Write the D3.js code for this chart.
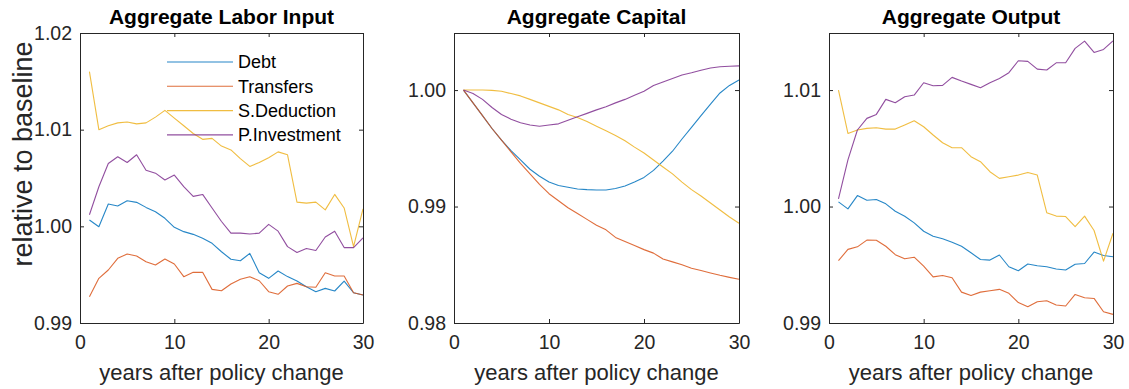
<!DOCTYPE html>
<html>
<head>
<meta charset="utf-8">
<script src="https://cdn.jsdelivr.net/npm/d3@7/dist/d3.min.js"></script>
<style>
    body { margin: 0; background: #fff; }
    svg { display: block; font-family: "Liberation Sans", Arial, sans-serif; }
</style>
</head>
<body>
<svg id="chart" width="1129" height="389"></svg>
<script>
var years = d3.range(1, 31);
var seriesNames = ['Debt', 'Transfers', 'S.Deduction', 'P.Investment'];
var seriesColors = ['#0072BD', '#D95319', '#EDB120', '#7E2F8E'];
var xTicks = [0, 10, 20, 30];

var laborDebt = [1.00065, 0.99996, 1.00231, 1.0021, 1.00265, 1.00248, 1.00196, 1.00151, 1.00083, 0.9999,
    0.99945, 0.99917, 0.99876, 0.99824, 0.99737, 0.99659, 0.99644, 0.9972, 0.9952, 0.99462,
    0.99538, 0.9948, 0.99434, 0.99375, 0.99324, 0.99358, 0.99331, 0.99434, 0.99313, 0.9929];
var laborTransfers = [0.99272, 0.99462, 0.99548, 0.99669, 0.99713, 0.99693, 0.99634, 0.996, 0.99662, 0.9961,
    0.99479, 0.99524, 0.99524, 0.99348, 0.99334, 0.99403, 0.99452, 0.99479, 0.99437, 0.99324,
    0.99297, 0.99383, 0.9941, 0.99375, 0.9937, 0.9952, 0.99486, 0.99486, 0.99313, 0.9929];
var laborSDeduction = [1.0160, 1.0100, 1.0104, 1.0107, 1.0108, 1.0106, 1.0107, 1.0113, 1.0120, 1.0112,
    1.0104, 1.0096, 1.0090, 1.0091, 1.0083, 1.0079, 1.0070, 1.0062, 1.0066, 1.0071,
    1.0077, 1.0074, 1.0025, 1.0024, 1.0025, 1.0017, 1.0033, 1.0019, 0.9979, 1.0018];
var laborPInvestment = [1.0012, 1.0041, 1.0065, 1.0072, 1.0066, 1.0074, 1.0058, 1.0055, 1.0048, 1.0053,
    1.0041, 1.0031, 1.0033, 1.0019, 1.0005, 0.9993, 0.9993, 0.9992, 0.9993, 1.0002,
    0.9995, 0.9979, 0.9973, 0.9977, 0.9975, 0.9989, 0.9995, 0.9978, 0.9978, 0.9988];

var capitalDebt = [1.0000, 0.9989, 0.9978, 0.9967, 0.9957, 0.9948, 0.9940, 0.9932, 0.9926, 0.9921,
    0.9918, 0.99165, 0.9915, 0.99145, 0.99142, 0.99142, 0.99155, 0.99176, 0.9921, 0.9925,
    0.9931, 0.9939, 0.99475, 0.9958, 0.9968, 0.9978, 0.9988, 0.99975, 1.0004, 1.00086];
var capitalTransfers = [1.0000, 0.9989, 0.9978, 0.9967, 0.9957, 0.9947, 0.9937, 0.9928, 0.9919, 0.9911,
    0.9905, 0.9899, 0.9894, 0.9889, 0.9884, 0.9880, 0.98735, 0.9870, 0.98665, 0.9863,
    0.9860, 0.9855, 0.98525, 0.9850, 0.9847, 0.9845, 0.9843, 0.9841, 0.98392, 0.98375];
var capitalSDeduction = [1.0000, 1.0000, 1.0000, 0.99997, 0.9999, 0.9997, 0.9995, 0.9992, 0.9989, 0.9986,
    0.9983, 0.9979, 0.99765, 0.9973, 0.9969, 0.9965, 0.9961, 0.99565, 0.9951, 0.9946,
    0.9940, 0.9934, 0.9928, 0.9921, 0.99145, 0.9909, 0.9903, 0.9897, 0.9891, 0.98856];
var capitalPInvestment = [1.0000, 0.9997, 0.9992, 0.9985, 0.9979, 0.9975, 0.9972, 0.9970, 0.9969, 0.9970,
    0.9971, 0.9974, 0.9977, 0.9980, 0.9983, 0.99857, 0.9989, 0.9992, 0.99955, 0.9999,
    1.0004, 1.0007, 1.0010, 1.0013, 1.00148, 1.0017, 1.0019, 1.0020, 1.00205, 1.00208];

var outputDebt = [1.0004, 0.9998, 1.00094, 1.00054, 1.0006, 1.00023, 0.9996, 0.99917, 0.9986, 0.99788,
    0.99745, 0.99723, 0.99694, 0.99659, 0.99603, 0.99545, 0.9954, 0.99584, 0.99483, 0.99449,
    0.99506, 0.99491, 0.99483, 0.99464, 0.99455, 0.99504, 0.99511, 0.99609, 0.9958, 0.99569];
var outputTransfers = [0.99535, 0.99632, 0.99654, 0.99712, 0.99711, 0.99659, 0.99587, 0.99551, 0.99565, 0.99488,
    0.99396, 0.99408, 0.99388, 0.99265, 0.99236, 0.99265, 0.99277, 0.99289, 0.99255, 0.99175,
    0.9914, 0.99183, 0.99191, 0.99154, 0.99146, 0.99245, 0.99217, 0.99211, 0.99097, 0.99074];
var outputSDeduction = [1.0100, 1.00628, 1.00657, 1.00671, 1.00676, 1.00665, 1.00665, 1.007, 1.00737, 1.00685,
    1.00614, 1.00548, 1.00505, 1.00505, 1.00428, 1.00385, 1.00299, 1.00242, 1.00256, 1.0027,
    1.00293, 1.0027, 0.99947, 0.99918, 0.99914, 0.99828, 0.99918, 0.99794, 0.99531, 0.99771];
var outputPInvestment = [1.00066, 1.0040, 1.00657, 1.00757, 1.00791, 1.0092, 1.00891, 1.00943, 1.00957, 1.01063,
    1.01037, 1.0104, 1.01109, 1.01077, 1.01049, 1.0102, 1.01063, 1.011, 1.01149, 1.01252,
    1.01246, 1.0118, 1.01172, 1.01234, 1.01234, 1.01358, 1.0142, 1.01323, 1.01349, 1.01423];

var panels = [
    {title: 'Aggregate Labor Input', left: 80, right: 363, yDomain: [0.99, 1.02],
        yTicks: [0.99, 1.00, 1.01, 1.02],
        series: [laborDebt, laborTransfers, laborSDeduction, laborPInvestment]},
    {title: 'Aggregate Capital', left: 454, right: 739, yDomain: [0.98, 1.0049],
        yTicks: [0.98, 0.99, 1.00],
        series: [capitalDebt, capitalTransfers, capitalSDeduction, capitalPInvestment]},
    {title: 'Aggregate Output', left: 829, right: 1113, yDomain: [0.99, 1.0149],
        yTicks: [0.99, 1.00, 1.01],
        series: [outputDebt, outputTransfers, outputSDeduction, outputPInvestment]}
];

var plotTop = 33;
var plotBottom = 323;
var ink = '#262626';
var svg = d3.select('#chart');

function styleAxis(g) {
    g.selectAll('path.domain').attr('stroke', ink).attr('stroke-width', 1);
    g.selectAll('.tick line').attr('stroke', ink);
    g.selectAll('.tick text').attr('fill', ink).style('font-size', '19.5px');
}

panels.forEach(function(p, pi) {
    var x = d3.scaleLinear().domain([0, 30]).range([p.left, p.right]);
    var y = d3.scaleLinear().domain(p.yDomain).range([plotBottom, plotTop]);
    var g = svg.append('g').attr('class', 'panel');

    // lines first, box and ticks on top
    var line = d3.line()
        .x(function(d, i) { return x(years[i]); })
        .y(function(d) { return y(d); });

    g.selectAll('path.js-line')
        .data(p.series)
      .enter().append('path')
        .classed('js-line', true)
        .attr('d', line)
        .attr('fill', 'none')
        .attr('stroke', function(d, i) { return seriesColors[i]; })
        .attr('stroke-width', 1.1)
        .attr('stroke-opacity', 0.85)
        .style('stroke-linejoin', 'round');

    g.append('g')
        .attr('transform', 'translate(0,' + plotBottom + ')')
        .call(d3.axisBottom(x).tickValues(xTicks).tickSizeInner(-4).tickSizeOuter(0).tickPadding(12))
        .call(styleAxis);
    g.append('g')
        .attr('transform', 'translate(0,' + plotTop + ')')
        .call(d3.axisTop(x).tickValues(xTicks).tickSizeInner(-4).tickSizeOuter(0).tickFormat(''))
        .call(styleAxis);
    g.append('g')
        .attr('transform', 'translate(' + p.left + ',0)')
        .call(d3.axisLeft(y).tickValues(p.yTicks).tickSizeInner(-4).tickSizeOuter(0)
            .tickPadding(8).tickFormat(d3.format('.2f')))
        .call(styleAxis);
    g.append('g')
        .attr('transform', 'translate(' + p.right + ',0)')
        .call(d3.axisRight(y).tickValues(p.yTicks).tickSizeInner(-4).tickSizeOuter(0).tickFormat(''))
        .call(styleAxis);

    g.append('text')
        .attr('x', (p.left + p.right) / 2)
        .attr('y', 23.5)
        .attr('text-anchor', 'middle')
        .attr('fill', '#000')
        .style('font-size', '21px')
        .style('font-weight', 'bold')
        .text(p.title);

    g.append('text')
        .attr('x', (p.left + p.right) / 2)
        .attr('y', 380)
        .attr('text-anchor', 'middle')
        .attr('fill', ink)
        .style('font-size', '22px')
        .text('years after policy change');

    if(pi === 0) {
        g.append('text')
            .attr('transform', 'translate(31.5,154) rotate(-90)')
            .attr('text-anchor', 'middle')
            .attr('fill', ink)
            .style('font-size', '27px')
            .text('relative to baseline');

        var legend = g.selectAll('g.legend-item')
            .data(seriesNames)
          .enter().append('g')
            .classed('legend-item', true)
            .attr('transform', function(d, i) { return 'translate(0,' + (62 + i * 24.3) + ')'; });
        legend.append('line')
            .attr('x1', 167).attr('x2', 233)
            .attr('stroke', function(d, i) { return seriesColors[i]; })
            .attr('stroke-width', 1.1)
            .attr('stroke-opacity', 0.85);
        legend.append('text')
            .attr('x', 238)
            .attr('dy', '0.35em')
            .attr('fill', '#000')
            .style('font-size', '18px')
            .text(function(d) { return d; });
    }
});
</script>
</body>
</html>
